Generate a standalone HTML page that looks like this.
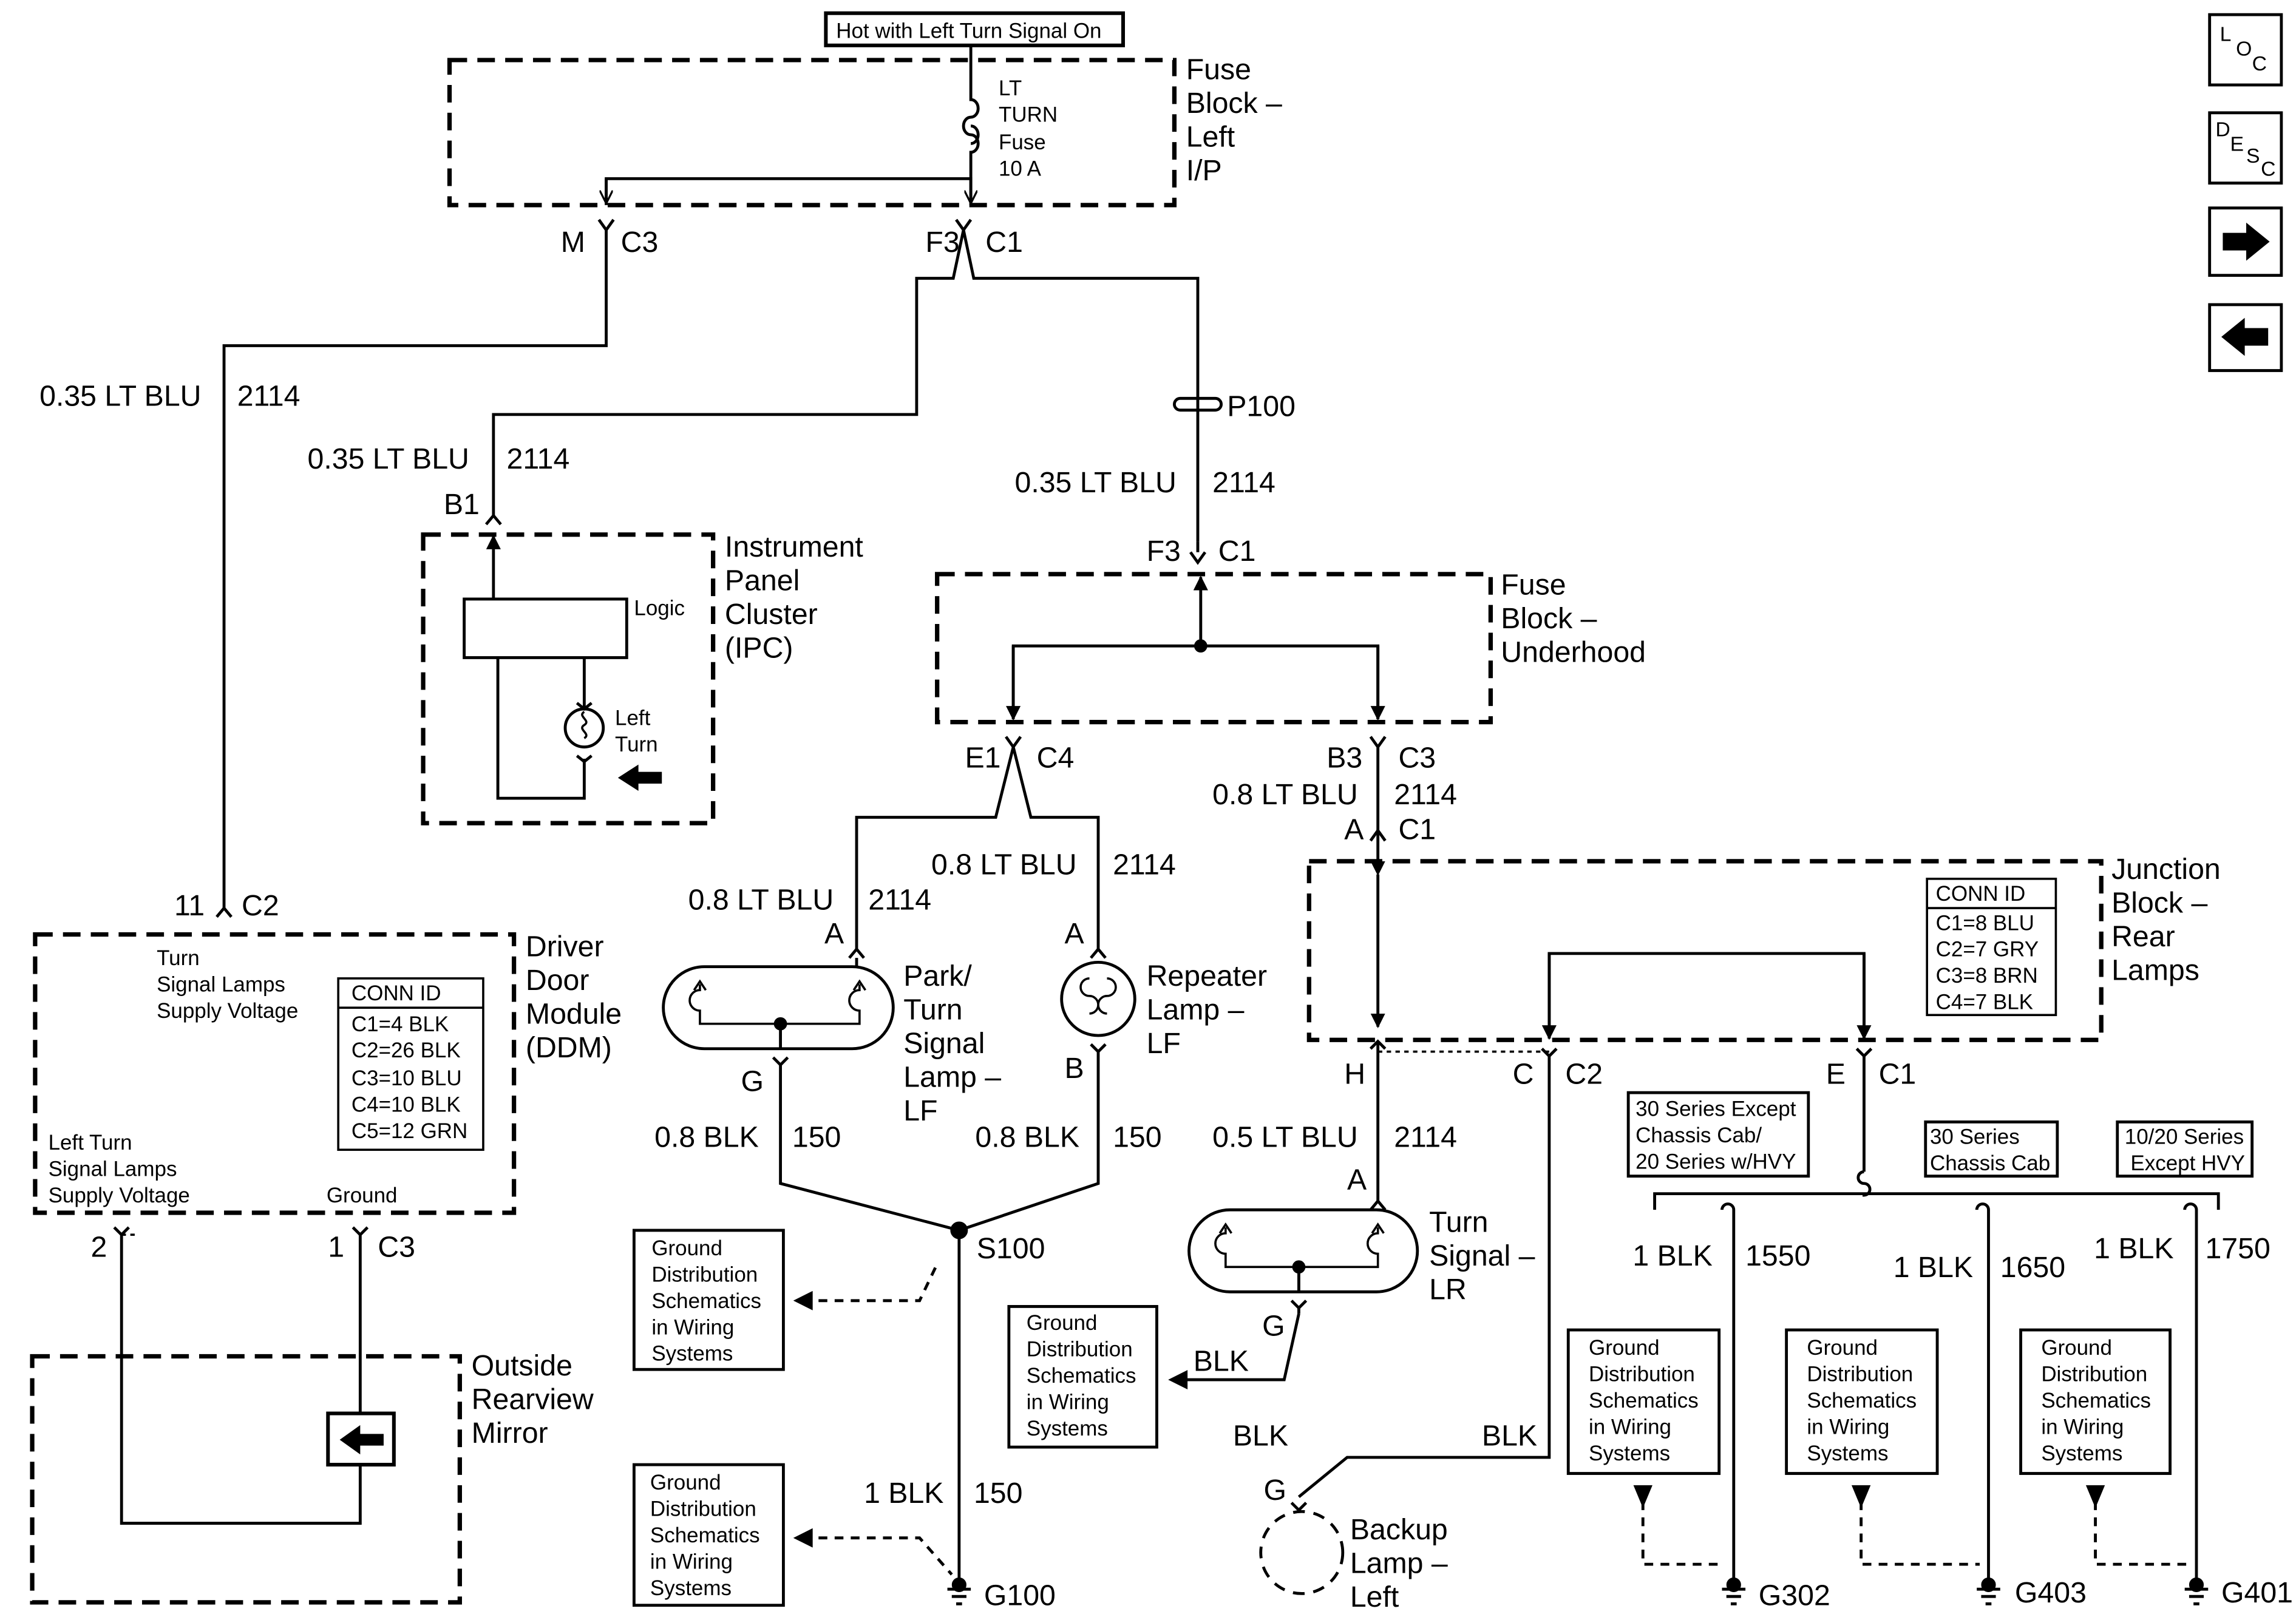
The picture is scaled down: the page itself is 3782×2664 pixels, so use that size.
<!DOCTYPE html>
<html><head><meta charset="utf-8"><style>
html,body{margin:0;padding:0;background:#fff;}
svg{display:block;}
text{font-family:"Liberation Sans",Arial,sans-serif;fill:#000;}
.b{font-size:20px;}
.s{font-size:14.5px;}
</style></head><body>
<svg width="3782" height="2664" viewBox="0 0 1568 1104" preserveAspectRatio="none" xmlns="http://www.w3.org/2000/svg">
<defs>
<marker id="ar" viewBox="0 0 10 10" refX="9" refY="5" markerWidth="5" markerHeight="5" orient="auto"><path d="M0,0 L10,5 L0,10 z" fill="#000"/></marker>
<marker id="arw" viewBox="0 0 10 10" refX="9" refY="5" markerWidth="4.5" markerHeight="4.5" orient="auto"><path d="M0,0 L10,5 L0,10" fill="none" stroke="#000" stroke-width="1.5"/></marker>
</defs>
<g fill="none" stroke="#000" stroke-width="2">
<!-- top box -->
<rect x="564" y="9" width="203" height="22" stroke-width="2.5"/>
<!-- dashed boxes -->
<g stroke-dasharray="12,7" stroke-width="3">
<rect x="307" y="41" width="495" height="99"/>
<rect x="289" y="365" width="198" height="197"/>
<rect x="640" y="392" width="378" height="101"/>
<rect x="894" y="588" width="541" height="122"/>
<rect x="24" y="638" width="327" height="190"/>
<rect x="22" y="926" width="292" height="168"/>
</g>
<!-- fuse -->
<path d="M663 31 V68 a5 6 0 0 1 0 12 a5 6 0 0 0 0 12 a5 6 0 0 1 0 12 V122"/>
<path d="M663 86 a5 6 0 0 1 0 12" />
<path d="M414 140 V122 H663 V140" />
<path d="M414 122 V138" marker-end="url(#arw)"/>
<path d="M663 122 V138" marker-end="url(#arw)"/>
<!-- M C3 -->
<path d="M409 150 L414 157 L419 150 M414 157 V236 H153 V620"/>
<!-- F3 C1 -->
<path d="M653 150 L658 157 L663 150 M658 157 L651 190 H626 V283 H337 V352 M658 157 L665 190 H818 V370"/>
<!-- P100 -->
<path d="M806 272 H830 M806 280 H830 M806 272 a4 4 0 0 0 0 8 M830 272 a4 4 0 0 1 0 8"/>
<!-- B1 -->
<path d="M332 358 L337 352 L342 358"/>
<!-- IPC internals -->
<path d="M337 409 V366" marker-end="url(#ar)"/>
<rect x="317" y="409" width="111" height="40"/>
<path d="M340 449 V545 H399 V518 M399 449 V484"/>
<path d="M394 480 L399 484 L404 480 M394 516 L399 520 L404 516"/>
<circle cx="399" cy="497" r="13"/>
<path d="M399 486 c-5 3 5 6 0 9 c-5 3 5 6 0 9" stroke-width="1.5"/>
<!-- underhood -->
<path d="M818 370 V377 M813 377 L818 384 L823 377" />
<path d="M820 441 V394" marker-end="url(#ar)"/>
<path d="M692 491 V441 H941 V491"/>
<path d="M692 441 V491" marker-end="url(#ar)"/>
<path d="M941 441 V491" marker-end="url(#ar)"/>
<circle cx="820" cy="441" r="3.5" fill="#000"/>
<!-- E1 C4 -->
<path d="M687 503 L692 510 L697 503 M692 510 L680 558 H585 V648 M692 510 L704 558 H750 V648"/>
<path d="M580 654 L585 648 L590 654 M745 654 L750 648 L755 654"/>
<!-- B3 C3 -->
<path d="M936 503 L941 510 L946 503 M941 510 V587"/>
<path d="M936 574 L941 567 L946 574"/>
<path d="M941 597 V701" marker-start="url(#ar)" marker-end="url(#ar)"/>
<!-- Park/Turn lamp -->
<rect x="453" y="660" width="157" height="56" rx="28"/>
<path d="M478 672 V676 a6 6 0 0 0 0 14 V699 H587 V690 a6 6 0 0 1 0 -14 V672" stroke-width="1.5"/>
<path d="M474 676 L478 670 L482 676 M583 676 L587 670 L591 676" stroke-width="1.5"/>
<path d="M533 699 V716 M585 654 V660"/>
<circle cx="533" cy="699" r="3.5" fill="#000"/>
<path d="M528 722 L533 727 L538 722 M533 727 V808 L655 840 L750 808 V718"/>
<!-- repeater -->
<circle cx="750" cy="682" r="25"/>
<path d="M744 668 a5 5 0 0 0 0 12 a5 5 0 0 1 0 12 M756 668 a5 5 0 0 1 0 12 a5 5 0 0 0 0 12" stroke-width="1.5"/>
<path d="M745 713 L750 718 L755 713"/>
<!-- S100 and G100 -->
<circle cx="655" cy="840" r="5" fill="#000"/>
<path d="M655 840 V1080"/>
<!-- ground boxes left -->
<rect x="433" y="840" width="102" height="95"/>
<rect x="433" y="1000" width="102" height="96"/>
<rect x="689" y="892" width="101" height="96"/>
<path d="M548 888 H628 L640 863" stroke-dasharray="6,5"/>
<path d="M548 1050 H628 L650 1075" stroke-dasharray="6,5"/>
<path d="M554 883 L544 888 L554 893 z M554 1045 L544 1050 L554 1055 z M810 937 L800 942 L810 947 z" fill="#000"/>
<path d="M810 942 H877 L887 897"/>
<!-- junction internals -->
<path d="M1058 709 V651 H1273 V709"/>
<path d="M1058 651 V709" marker-end="url(#ar)"/>
<path d="M1273 651 V709" marker-end="url(#ar)"/>
<rect x="1316" y="600" width="88" height="93" stroke-width="1.5"/>
<path d="M1316 620 H1404" stroke-width="1.5"/>
<path d="M936 716 L941 711 L946 716 M941 711 V820 M1053 716 L1058 721 L1063 716 M1058 721 V995 H920 L887 1022 M1268 716 L1273 721 L1278 716 M1273 721 V800"/>
<path d="M941 718 H1058" stroke-dasharray="3,3" stroke-width="1.5"/>
<path d="M936 826 L941 820 L946 826"/>
<!-- turn LR -->
<rect x="812" y="826" width="156" height="56" rx="28"/>
<path d="M837 838 V842 a6 6 0 0 0 0 14 V865 H941 V856 a6 6 0 0 1 0 -14 V838" stroke-width="1.5"/>
<path d="M833 842 L837 836 L841 842 M937 842 L941 836 L945 842" stroke-width="1.5"/>
<path d="M887 865 V882 M882 888 L887 893 L892 888 M887 893 V897"/>
<circle cx="887" cy="865" r="3.5" fill="#000"/>
<!-- backup lamp -->
<path d="M882 1026 L887 1031 L892 1026"/>
<circle cx="889" cy="1060" r="28" stroke-dasharray="8,6"/>
<!-- series -->
<rect x="1112" y="746" width="123" height="57"/>
<rect x="1315" y="766" width="90" height="37"/>
<rect x="1446" y="766" width="92" height="37"/>
<path d="M1273 800 a4 4 0 0 0 0 8 a4 4 0 0 1 0 8 V815"/>
<path d="M1130 826 V815 H1515 V826"/>
<path d="M1184 826 a4 4 0 0 0 -8 0 M1184 826 V1080 M1358 826 a4 4 0 0 0 -8 0 M1358 826 V1080 M1500 826 a4 4 0 0 0 -8 0 M1500 826 V1080"/>
<rect x="1071" y="908" width="103" height="98"/>
<rect x="1220" y="908" width="103" height="98"/>
<rect x="1380" y="908" width="102" height="98"/>
<path d="M1122 1025 V1068 H1178 M1271 1025 V1068 H1352 M1431 1025 V1068 H1494" stroke-dasharray="6,5"/>
<path d="M1117 1015 L1127 1015 L1122 1027 z M1266 1015 L1276 1015 L1271 1027 z M1426 1015 L1436 1015 L1431 1027 z" fill="#000"/>
<!-- grounds -->
<g stroke-width="2">
<path d="M647 1085 H663 M650 1090 H660 M653 1095 H657"/>
<path d="M1176 1085 H1192 M1179 1090 H1189 M1182 1095 H1186"/>
<path d="M1350 1085 H1366 M1353 1090 H1363 M1356 1095 H1360"/>
<path d="M1492 1085 H1508 M1495 1090 H1505 M1498 1095 H1502"/>
</g>
<circle cx="655" cy="1082" r="4" fill="#000"/>
<circle cx="1184" cy="1082" r="4" fill="#000"/>
<circle cx="1358" cy="1082" r="4" fill="#000"/>
<circle cx="1500" cy="1082" r="4" fill="#000"/>
<!-- DDM -->
<path d="M148 626 L153 620 L158 626"/>
<rect x="231" y="668" width="99" height="117" stroke-width="1.5"/>
<path d="M231 688 H330" stroke-width="1.5"/>
<path d="M78 838 L83 843 L88 838 M83 843 V1040 H246 V1000 M241 838 L246 843 L251 838 M246 843 V965"/>
<path d="M83 843 H92" stroke-dasharray="3,3" stroke-width="1.5"/>
<rect x="224" y="965" width="45" height="35" stroke-width="2.5"/>
<!-- right icons -->
<rect x="1509" y="10" width="49" height="48"/>
<rect x="1509" y="77" width="49" height="48"/>
<rect x="1509" y="142" width="49" height="46"/>
<rect x="1509" y="208" width="49" height="45"/>
</g>
<!-- filled arrows -->
<path d="M422 531 L436 522 V527 H452 V535 H436 V540 z" fill="#000"/>
<path d="M232 983 L246 973 V979 H262 V987 H246 V993 z" fill="#000"/>
<path d="M1550 165 L1534 152 V159 H1518 V171 H1534 V178 z" fill="#000"/>
<path d="M1517 230 L1533 217 V224 H1549 V236 H1533 V243 z" fill="#000"/>
<!-- text -->
<text class="s" x="571" y="26" font-size="14.5">Hot with Left Turn Signal On</text>
<g class="b">
<text x="810" y="54">Fuse</text><text x="810" y="77">Block –</text><text x="810" y="100">Left</text><text x="810" y="123">I/P</text>
<text x="383" y="172">M</text><text x="424" y="172">C3</text>
<text x="632" y="172">F3</text><text x="673" y="172">C1</text>
<text x="27" y="277">0.35 LT BLU</text><text x="162" y="277">2114</text>
<text x="210" y="320">0.35 LT BLU</text><text x="346" y="320">2114</text>
<text x="303" y="351">B1</text>
<text x="838" y="284">P100</text>
<text x="693" y="336">0.35 LT BLU</text><text x="828" y="336">2114</text>
<text x="783" y="383">F3</text><text x="832" y="383">C1</text>
<text x="495" y="380">Instrument</text><text x="495" y="403">Panel</text><text x="495" y="426">Cluster</text><text x="495" y="449">(IPC)</text>
<text x="1025" y="406">Fuse</text><text x="1025" y="429">Block –</text><text x="1025" y="452">Underhood</text>
<text x="659" y="524">E1</text><text x="708" y="524">C4</text>
<text x="906" y="524">B3</text><text x="955" y="524">C3</text>
<text x="828" y="549">0.8 LT BLU</text><text x="952" y="549">2114</text>
<text x="918" y="573">A</text><text x="955" y="573">C1</text>
<text x="636" y="597">0.8 LT BLU</text><text x="760" y="597">2114</text>
<text x="470" y="621">0.8 LT BLU</text><text x="593" y="621">2114</text>
<text x="563" y="644">A</text><text x="727" y="644">A</text>
<text x="617" y="673">Park/</text><text x="617" y="696">Turn</text><text x="617" y="719">Signal</text><text x="617" y="742">Lamp –</text><text x="617" y="765">LF</text>
<text x="783" y="673">Repeater</text><text x="783" y="696">Lamp –</text><text x="783" y="719">LF</text>
<text x="506" y="745">G</text><text x="727" y="736">B</text>
<text x="447" y="783">0.8 BLK</text><text x="541" y="783">150</text>
<text x="666" y="783">0.8 BLK</text><text x="760" y="783">150</text>
<text x="667" y="859">S100</text>
<text x="590" y="1026">1 BLK</text><text x="665" y="1026">150</text>
<text x="672" y="1096">G100</text>
<text x="1442" y="600">Junction</text><text x="1442" y="623">Block –</text><text x="1442" y="646">Rear</text><text x="1442" y="669">Lamps</text>
<text x="918" y="740">H</text><text x="1033" y="740">C</text><text x="1069" y="740">C2</text>
<text x="1247" y="740">E</text><text x="1283" y="740">C1</text>
<text x="828" y="783">0.5 LT BLU</text><text x="952" y="783">2114</text>
<text x="920" y="812">A</text>
<text x="976" y="841">Turn</text><text x="976" y="864">Signal –</text><text x="976" y="887">LR</text>
<text x="862" y="912">G</text>
<text x="815" y="936">BLK</text>
<text x="842" y="987">BLK</text><text x="1012" y="987">BLK</text>
<text x="863" y="1024">G</text>
<text x="922" y="1051">Backup</text><text x="922" y="1074">Lamp –</text><text x="922" y="1097">Left</text>
<text x="1115" y="864">1 BLK</text><text x="1192" y="864">1550</text>
<text x="1293" y="872">1 BLK</text><text x="1366" y="872">1650</text>
<text x="1430" y="859">1 BLK</text><text x="1506" y="859">1750</text>
<text x="1201" y="1096">G302</text><text x="1376" y="1094">G403</text><text x="1517" y="1094">G401</text>
<text x="359" y="653">Driver</text><text x="359" y="676">Door</text><text x="359" y="699">Module</text><text x="359" y="722">(DDM)</text>
<text x="119" y="625">11</text><text x="165" y="625">C2</text>
<text x="62" y="858">2</text><text x="224" y="858">1</text><text x="258" y="858">C3</text>
<text x="322" y="939">Outside</text><text x="322" y="962">Rearview</text><text x="322" y="985">Mirror</text>
</g>
<g class="s">
<text x="682" y="65">LT</text><text x="682" y="83">TURN</text><text x="682" y="102">Fuse</text><text x="682" y="120">10 A</text>
<text x="433" y="420">Logic</text>
<text x="420" y="495">Left</text><text x="420" y="513">Turn</text>
<text x="107" y="659">Turn</text><text x="107" y="677">Signal Lamps</text><text x="107" y="695">Supply Voltage</text>
<text x="33" y="785">Left Turn</text><text x="33" y="803">Signal Lamps</text><text x="33" y="821">Supply Voltage</text>
<text x="223" y="821">Ground</text>
<text x="240" y="683">CONN ID</text><text x="240" y="704">C1=4 BLK</text><text x="240" y="722">C2=26 BLK</text><text x="240" y="741">C3=10 BLU</text><text x="240" y="759">C4=10 BLK</text><text x="240" y="777">C5=12 GRN</text>
<text x="1322" y="615">CONN ID</text><text x="1322" y="635">C1=8 BLU</text><text x="1322" y="653">C2=7 GRY</text><text x="1322" y="671">C3=8 BRN</text><text x="1322" y="689">C4=7 BLK</text>
<text x="1117" y="762">30 Series Except</text><text x="1117" y="780">Chassis Cab/</text><text x="1117" y="798">20 Series w/HVY</text>
<text x="1318" y="781">30 Series</text><text x="1318" y="799">Chassis Cab</text>
<text x="1451" y="781">10/20 Series</text><text x="1455" y="799">Except HVY</text>
<g>
<text x="445" y="857">Ground</text><text x="445" y="875">Distribution</text><text x="445" y="893">Schematics</text><text x="445" y="911">in Wiring</text><text x="445" y="929">Systems</text>
<text x="444" y="1017">Ground</text><text x="444" y="1035">Distribution</text><text x="444" y="1053">Schematics</text><text x="444" y="1071">in Wiring</text><text x="444" y="1089">Systems</text>
<text x="701" y="908">Ground</text><text x="701" y="926">Distribution</text><text x="701" y="944">Schematics</text><text x="701" y="962">in Wiring</text><text x="701" y="980">Systems</text>
<text x="1085" y="925">Ground</text><text x="1085" y="943">Distribution</text><text x="1085" y="961">Schematics</text><text x="1085" y="979">in Wiring</text><text x="1085" y="997">Systems</text>
<text x="1234" y="925">Ground</text><text x="1234" y="943">Distribution</text><text x="1234" y="961">Schematics</text><text x="1234" y="979">in Wiring</text><text x="1234" y="997">Systems</text>
<text x="1394" y="925">Ground</text><text x="1394" y="943">Distribution</text><text x="1394" y="961">Schematics</text><text x="1394" y="979">in Wiring</text><text x="1394" y="997">Systems</text>
</g>
<text x="1516" y="28" font-size="14">L</text><text x="1527" y="38" font-size="14">O</text><text x="1538" y="48" font-size="14">C</text>
<text x="1513" y="93" font-size="14">D</text><text x="1523" y="103" font-size="14">E</text><text x="1534" y="111" font-size="14">S</text><text x="1544" y="120" font-size="14">C</text>
</g>
</svg>
</body></html>
